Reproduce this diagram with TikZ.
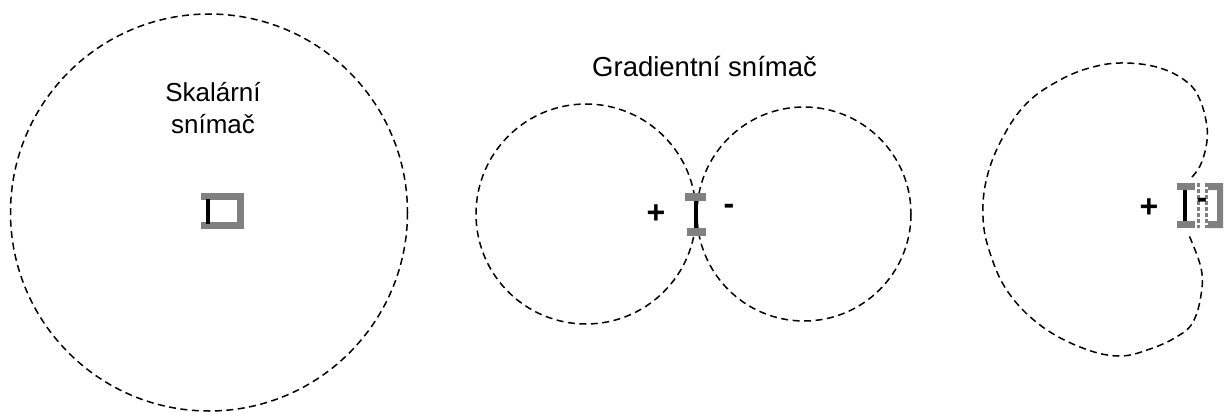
\documentclass[tikz,border=0pt]{standalone}
\usepackage{fontspec}
\setmainfont{Liberation Sans}
\begin{document}
\begin{tikzpicture}[x=1pt,y=-1pt,
  pattern line/.style={draw=black,line width=1.5pt,dash pattern=on 7pt off 4.5pt},
  graybar/.style={draw=none,fill=gray},
  grayline/.style={draw=gray,line width=7pt},
  blackline/.style={draw=black,line width=3.5pt},
  sign/.style={font=\fontsize{32}{34}\selectfont\bfseries,inner sep=0pt},
  label/.style={font=\fontsize{26}{32}\selectfont,inner sep=0pt,align=center}]
\useasboundingbox (0,0) rectangle (1229,412);
% scalar sensor
\draw[pattern line] (209,212.5) circle[radius=198.5];
\node[label,anchor=base] (skal) at (213,101) {Skalární};
\node[label,anchor=base] (skal2) at (213,133) {snímač};
\draw[grayline] (201,196.5) -- (240.5,196.5) -- (240.5,225.5) -- (201,225.5);
\draw[blackline] (208,199) -- (208,224);
% gradient sensor
\draw[pattern line] (586,214) circle[radius=110];
\draw[pattern line] (804,214) circle[radius=107];
\node[font=\fontsize{27.5}{30}\selectfont,inner sep=0pt,anchor=base west] (grad) at (592,77) {Gradientní snímač};
\fill[graybar] (685,193) rectangle (706,201);
\fill[graybar] (687,228) rectangle (706,236);
\draw[blackline] (696,201) -- (696,228);
\node[sign] (p1) at (656,214) {+};
\node[sign] (m1) at (729,209) {-};
% cardioid sensor
\draw[pattern line] plot[smooth,tension=0.65] coordinates {
 (1192,177) (1200,166) (1206,147) (1207,127) (1200,100) (1187,82) (1160,68)
 (1125,63) (1093,67) (1060,80) (1027,103) (1003,137) (987,177) (983,217)
 (990,253) (1008,292) (1040,325) (1080,347) (1118,356) (1150,349) (1178,336)
 (1193,322) (1201,295) (1201,268) (1188,233)};
\node[sign] (p2) at (1149,208) {+};
\fill[graybar] (1177,183) rectangle (1195,190);
\fill[graybar] (1177,221) rectangle (1195,228);
\draw[blackline] (1185,190) -- (1185,221);
\draw[draw=gray,line width=3pt,dash pattern=on 4pt off 2pt] (1198,183) -- (1198,228);
\draw[draw=gray,line width=3pt,dash pattern=on 4pt off 2pt] (1206,183) -- (1206,228);
\fill[graybar] (1208,183) -- (1223,183) -- (1223,228) -- (1208,228) -- (1208,221) -- (1217,221) -- (1217,190) -- (1208,190) -- cycle;
\node[sign] (m2) at (1202,203) {-};
\end{tikzpicture}
\end{document}
